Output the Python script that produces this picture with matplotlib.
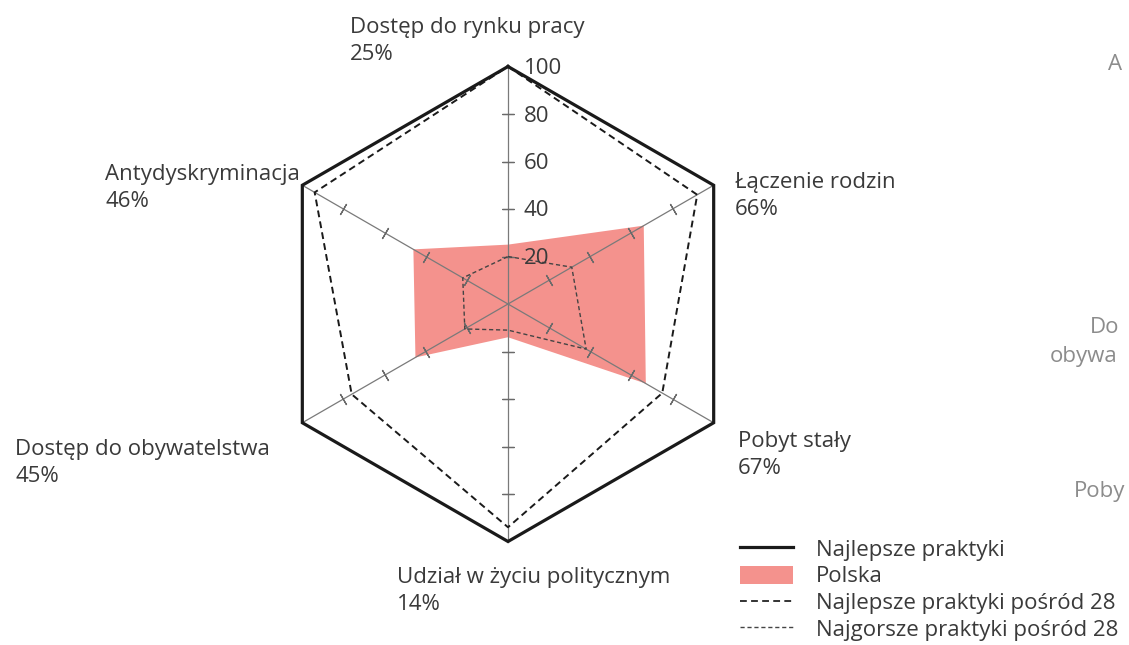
import numpy as np
import matplotlib
matplotlib.use("Agg")
import matplotlib.pyplot as plt
from matplotlib.lines import Line2D
from matplotlib.patches import Patch
from matplotlib.transforms import offset_copy

# ---- data ----
categories = ["Dostęp do rynku pracy", "Łączenie rodzin", "Pobyt stały",
              "Udział w życiu politycznym", "Dostęp do obywatelstwa", "Antydyskryminacja"]
polska = [25, 66, 67, 14, 45, 46]
best_practice = [100, 100, 100, 100, 100, 100]
best_of_28 = [100, 92, 75, 94, 76, 94]
worst_of_28 = [20, 31, 38, 11, 21, 22]
radial_ticks = [20, 40, 60, 80, 100]
legend_labels = ["Najlepsze praktyki", "Polska",
                 "Najlepsze praktyki pośród 28", "Najgorsze praktyki pośród 28"]
# fragments of a neighbouring chart, visible at the right edge
ghost_texts = ["A", "Do", "obywa", "Poby"]

plt.rcParams["font.family"] = ["Open Sans", "DejaVu Sans"]
FS = 16
TXT = "#3a3a3a"
PINK = "#f4928d"

W, H = 1129, 645
fig = plt.figure(figsize=(W / 100, H / 100), dpi=100)
cx, cy, R = 508, 304, 237.5
ax = fig.add_axes([(cx - R) / W, (H - cy - R) / H, 2 * R / W, 2 * R / H],
                  projection="polar")
ax.set_theta_zero_location("N")
ax.set_theta_direction(-1)
ax.set_ylim(0, 100)
ax.axis("off")

n = len(categories)
angles = np.arange(n) * 2 * np.pi / n


def closed(v):
    v = np.asarray(v, dtype=float)
    return np.r_[v, v[:1]]


ang_c = closed(angles)

# Polska fill
ax.fill(ang_c, closed(polska), color=PINK, lw=0, zorder=1, clip_on=False)

# spokes with ticks
for a in angles:
    ax.plot([a, a], [0, 100], color="#7a7a7a", lw=0.9, zorder=2, clip_on=False)
    rot = 90 - np.degrees(a)
    ax.plot([a] * 4, radial_ticks[:4], ls="none", marker=(2, 2, rot), ms=9,
            mec="#6a6a6a", mew=0.9, zorder=2, clip_on=False)

# series lines
ax.plot(ang_c, closed(best_practice), color="#1a1a1a", lw=2.3, zorder=4,
        clip_on=False, solid_joinstyle="miter")
ax.plot(ang_c, closed(best_of_28), color="#1a1a1a", lw=1.4, dashes=(3.5, 2.2),
        zorder=3, clip_on=False)
ax.plot(ang_c, closed(worst_of_28), color="#444444", lw=1.0, dashes=(3, 2),
        zorder=3, clip_on=False)

# radial labels
tr = offset_copy(ax.transData, fig=fig, x=16, y=-2, units="dots")
for v in radial_ticks:
    ax.text(0, v, str(v), transform=tr, ha="left", va="center", fontsize=FS,
            color=TXT, zorder=5)

# category labels (left x, baseline y of first line) in pixels
label_pos = [(350, 33), (735, 188), (738, 447), (397, 583), (15, 455), (105, 180)]
for (x, y), name, val in zip(label_pos, categories, polska):
    fig.text(x / W, 1 - y / H, name, ha="left", va="baseline", fontsize=FS, color=TXT)
    fig.text(x / W, 1 - (y + 27) / H, f"{val}%", ha="left", va="baseline",
             fontsize=FS, color=TXT)

# ghost text fragments
ghost_pos = [(1108, 70), (1090, 333), (1050, 362), (1074, 497)]
for (x, y), t in zip(ghost_pos, ghost_texts):
    fig.text(x / W, 1 - y / H, t, ha="left", va="baseline", fontsize=FS,
             color="#8c8c8c")

# legend
handles = [Line2D([], [], color="#1a1a1a", lw=2.3),
           Patch(facecolor=PINK, edgecolor="none"),
           Line2D([], [], color="#333333", lw=1.4, dashes=(3.5, 2.2)),
           Line2D([], [], color="#444444", lw=1.0, dashes=(3, 2))]
fig.legend(handles, legend_labels, loc="upper left",
           bbox_to_anchor=(740 / W, 1 - 539 / H), frameon=False, fontsize=FS,
           handlelength=2.4, handleheight=0.9, handletextpad=1.0,
           labelspacing=0.21, borderpad=0, borderaxespad=0, labelcolor=TXT)

fig.savefig("out.png", dpi=100, facecolor="white")
